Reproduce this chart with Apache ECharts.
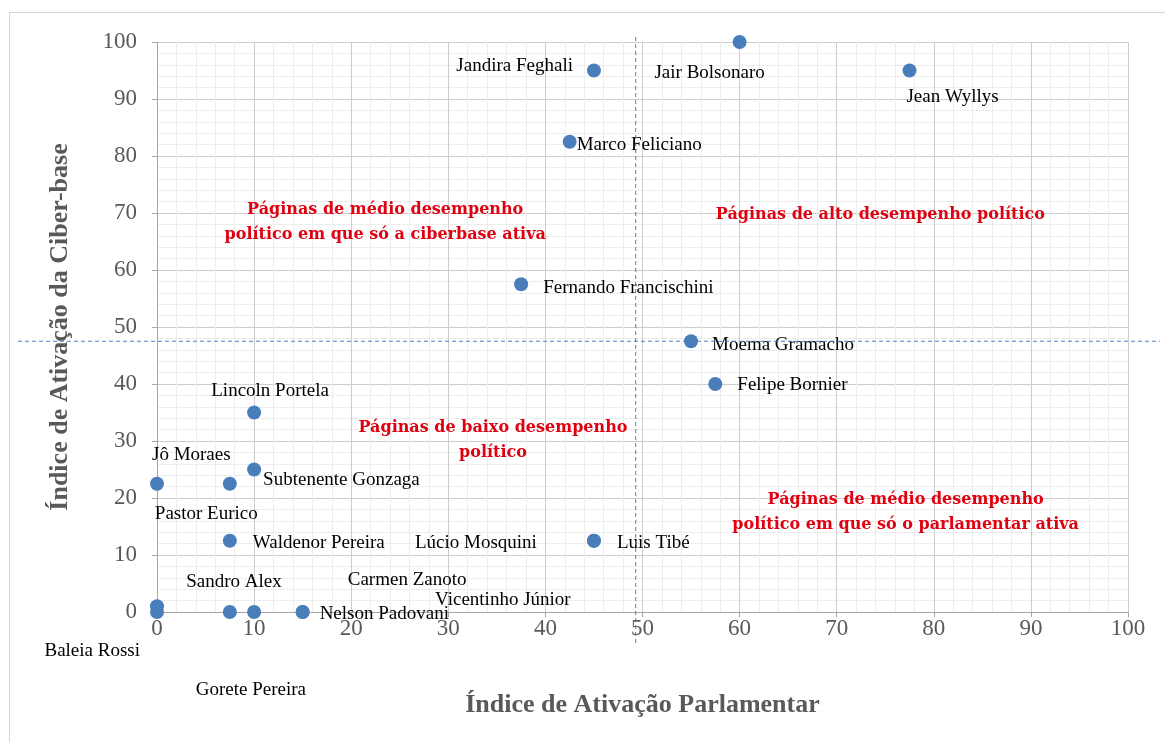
<!DOCTYPE html>
<html>
<head>
<meta charset="utf-8">
<script src="https://cdn.jsdelivr.net/npm/echarts@6/dist/echarts.min.js"></script>
<style>
html, body { margin: 0; padding: 0; background: #fff; }
#chart { width: 1165px; height: 742px; }
</style>
</head>
<body>
<div id="chart"></div>
<script>
// deputados e os dois índices
const nomes = [
  'Jandira Feghali', 'Jair Bolsonaro', 'Jean Wyllys', 'Marco Feliciano',
  'Fernando Francischini', 'Moema Gramacho', 'Felipe Bornier', 'Lincoln Portela',
  'Subtenente Gonzaga', 'Jô Moraes', 'Pastor Eurico', 'Waldenor Pereira',
  'Lúcio Mosquini', 'Luis Tibé', 'Sandro Alex', 'Baleia Rossi',
  'Gorete Pereira', 'Carmen Zanoto', 'Vicentinho Júnior', 'Nelson Padovani'
];
const ativacaoParlamentar = [45, 60, 77.5, 42.5, 37.5, 55, 57.5, 10, 10, 0, 7.5, 7.5, 45, 45, 0, 0, 7.5, 10, 15, 15];
const ativacaoCiberbase = [95, 100, 95, 82.5, 57.5, 47.5, 40, 35, 25, 22.5, 22.5, 12.5, 12.5, 12.5, 1, 0, 0, 0, 0, 0];

// linhas de corte dos quadrantes
const corteParlamentar = 49.3;
const corteCiberbase = 47.5;

// textos dos quadrantes
const quadrantes = [
  'Páginas de médio desempenho\npolítico em que só a ciberbase ativa',
  'Páginas de alto desempenho político',
  'Páginas de baixo desempenho\npolítico',
  'Páginas de médio desempenho\npolítico em que só o parlamentar ativa'
];
const quadranteX = [23.5, 74.5, 34.6, 77.1];
const quadranteY = [68.4, 69.6, 30.2, 17.4];

// posição dos rótulos (alinhamento e deslocamento em px a partir do ponto)
const alinhaRotulo = [
  'right', 'center', 'center', 'left', 'left', 'left', 'left', 'center',
  'left', 'left', 'left', 'left', 'left', 'left', 'center', 'right',
  'center', 'center', 'right', 'left'
];
const deslocRotulo = [
  [-21, -4], [-30, 31], [43, 27], [7, 3], [22, 4], [21, 4], [22, 1], [16, -21],
  [9, 11], [-5, -29], [-75, 30], [23, 2], [-179, 2], [23, 2], [77, -24], [-17, 39],
  [21, 78], [153, -32], [268, -12], [17, 2]
];

const serif = '"Liberation Serif", "Times New Roman", serif';
const chart = echarts.init(document.getElementById('chart'));

const pontos = nomes.map((n, i) => ({
  name: n,
  value: [ativacaoParlamentar[i], ativacaoCiberbase[i]],
  label: { offset: deslocRotulo[i], align: alinhaRotulo[i] }
}));

const textos = quadrantes.map((t, i) => ({
  name: t,
  value: [quadranteX[i], quadranteY[i]]
}));

const eixo = {
  type: 'value',
  min: 0,
  max: 100,
  interval: 10,
  nameLocation: 'middle',
  nameTextStyle: { fontFamily: serif, fontSize: 26, fontWeight: 'bold', color: '#595959' },
  axisLine: { show: true, lineStyle: { color: '#a6a6a6' } },
  axisTick: { show: true, length: 5, lineStyle: { color: '#a6a6a6' } },
  axisLabel: { fontFamily: serif, fontSize: 23, color: '#595959' },
  splitLine: { show: true, lineStyle: { color: '#cdcdcd' } },
  minorTick: { show: false, splitNumber: 5 },
  minorSplitLine: { show: true, lineStyle: { color: '#ededed' } }
};

chart.setOption({
  animation: false,
  grid: { left: 157, right: 37, top: 42, bottom: 130 },
  xAxis: Object.assign({}, eixo, {
    name: 'Índice de Ativação Parlamentar',
    nameGap: 80,
    axisLabel: Object.assign({}, eixo.axisLabel, { margin: 5 })
  }),
  yAxis: Object.assign({}, eixo, {
    name: 'Índice de Ativação da Ciber-base',
    nameGap: 84,
    axisLabel: Object.assign({}, eixo.axisLabel, { margin: 20 })
  }),
  series: [
    {
      name: 'deputados',
      type: 'scatter',
      symbolSize: 14,
      itemStyle: { color: '#4a7ebb', opacity: 1 },
      label: {
        show: true,
        position: 'inside',
        formatter: '{b}',
        fontFamily: serif,
        fontSize: 19,
        color: '#000'
      },
      data: pontos,
      z: 3
    },
    {
      name: 'quadrantes',
      type: 'scatter',
      symbolSize: 0,
      silent: true,
      itemStyle: { opacity: 1 },
      label: {
        show: true,
        position: 'inside',
        formatter: '{b}',
        fontFamily: '"DejaVu Serif", serif',
        fontSize: 16,
        fontWeight: 'bold',
        lineHeight: 25,
        color: '#e00010',
        align: 'center'
      },
      data: textos,
      z: 4
    }
  ]
});

// linhas tracejadas de corte, um pouco além da área do gráfico
const topo = chart.convertToPixel({ gridIndex: 0 }, [corteParlamentar, 100]);
const base = chart.convertToPixel({ gridIndex: 0 }, [corteParlamentar, 0]);
const esq = chart.convertToPixel({ gridIndex: 0 }, [0, corteCiberbase]);
const dir = chart.convertToPixel({ gridIndex: 0 }, [100, corteCiberbase]);
const tracejado = { stroke: '#4a7ebb', lineWidth: 1, lineDash: [4, 3] };

chart.setOption({
  graphic: [
    {
      type: 'rect',
      shape: { x: 9.5, y: 12.5, width: 1200, height: 800 },
      style: { fill: 'none', stroke: '#d4d4d4', lineWidth: 1 },
      silent: true
    },
    {
      type: 'line',
      shape: { x1: topo[0], y1: topo[1] - 5, x2: base[0], y2: base[1] + 33 },
      style: tracejado,
      silent: true,
      z: 10
    },
    {
      type: 'line',
      shape: { x1: esq[0] - 139, y1: esq[1], x2: dir[0] + 32, y2: dir[1] },
      style: tracejado,
      silent: true,
      z: 10
    }
  ]
});
</script>
</body>
</html>
